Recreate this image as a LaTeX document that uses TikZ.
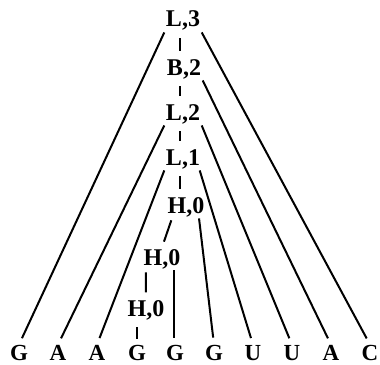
\documentclass[tikz,border=0pt]{standalone}
\usepackage{fontspec}
\setmainfont{Liberation Serif}
\begin{document}
\begin{tikzpicture}[x=1pt,y=-1pt,
  lab/.style={anchor=base,inner sep=1.5pt,font=\bfseries\fontsize{24}{27}\selectfont},
  leaf/.style={anchor=base,inner sep=0pt,font=\bfseries\fontsize{23}{26}\selectfont},
  edge/.style={line width=2pt,shorten >=7pt},
  ticky/.style={line width=1.5pt,shorten >=6pt,shorten <=6pt}]
\useasboundingbox (0,0) rectangle (380,364);
% internal nodes
\node[lab] (L3) at (183,27) {L,3};
\node[lab] (B2) at (184,75) {B,2};
\node[lab] (L2) at (183,120) {L,2};
\node[lab] (L1) at (183,165) {L,1};
\node[lab] (Ha) at (186,213) {H,0};
\node[lab] (Hb) at (162,265) {H,0};
\node[lab] (Hc) at (146,316) {H,0};
% leaves
\node[leaf] (n1) at (19,360) {G};
\node[leaf] (n2) at (58,360) {A};
\node[leaf] (n3) at (97,360) {A};
\node[leaf] (n4) at (137,360) {G};
\node[leaf] (n5) at (175,360) {G};
\node[leaf] (n6) at (214,360) {G};
\node[leaf] (n7) at (253,360) {U};
\node[leaf] (n8) at (292,360) {U};
\node[leaf] (n9) at (331,360) {A};
\node[leaf] (n10) at (370,360) {C};
% ticks
\draw[ticky] ([xshift=-3pt]L3.south) -- ([xshift=-4pt]B2.north);
\draw[ticky] ([xshift=-4pt]B2.south) -- ([xshift=-3pt]L2.north);
\draw[ticky] ([xshift=-3pt]L2.south) -- ([xshift=-3pt]L1.north);
\draw[ticky] ([xshift=-3pt]L1.south) -- ([xshift=-6pt]Ha.north);
\draw[ticky] (n4.north |- Hc.south) -- (n4.north);
% edges
\draw[edge] (L3.south west) -- (n1.north);
\draw[edge] (L3.south east) -- (n10.north);
\draw[edge] (B2.south east) -- (n9.north);
\draw[edge] (L2.south west) -- (n2.north);
\draw[edge] (L2.south east) -- (n8.north);
\draw[edge] (L1.south west) -- (n3.north);
\draw[edge] ([xshift=-2pt]L1.south east) -- (n7.north);
\draw[edge] ([xshift=-7pt]Ha.south east) -- (n6.north);
\draw[edge,shorten <=2pt,shorten >=6pt] ([xshift=6pt]Ha.south west) -- (Hb.north);
\draw[edge,shorten <=2pt,shorten >=6pt] ([xshift=4pt]Hb.south west) -- (Hc.north);
\draw[edge] ([xshift=-8pt]Hb.south east) -- ([xshift=-8pt]Hb.south east |- n5.north);
\end{tikzpicture}
\end{document}
